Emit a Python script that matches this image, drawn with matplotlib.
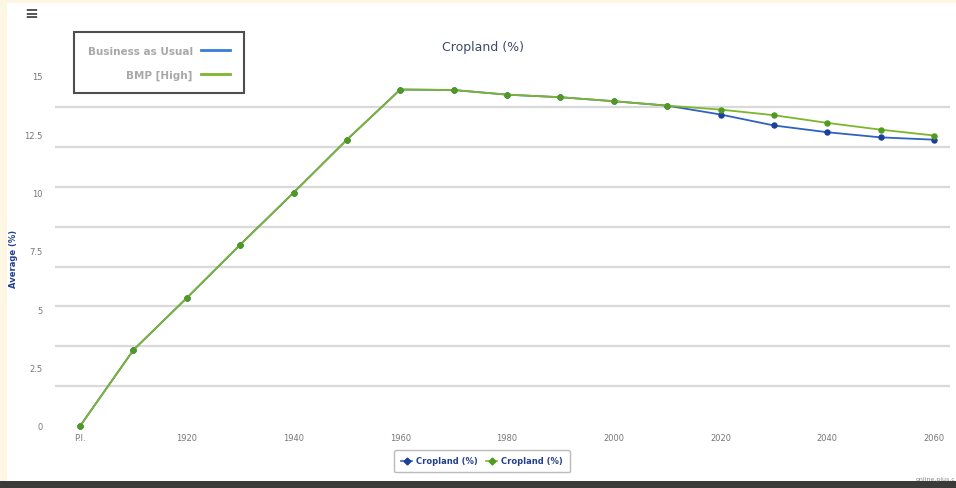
import numpy as np
import matplotlib.pyplot as plt
from matplotlib.lines import Line2D
from matplotlib.patches import Rectangle
from matplotlib.ticker import MultipleLocator, FixedLocator

years = [1900, 1910, 1920, 1930, 1940, 1950, 1960, 1970, 1980, 1990,
         2000, 2010, 2020, 2030, 2040, 2050, 2060]
bau = [0, 3.26, 5.49, 7.77, 10.0, 12.27, 14.42, 14.4, 14.2, 14.09,
       13.92, 13.73, 13.35, 12.88, 12.59, 12.37, 12.27]
bmp_high = [0, 3.26, 5.49, 7.77, 10.0, 12.27, 14.42, 14.4, 14.2, 14.09,
            13.92, 13.73, 13.56, 13.32, 12.99, 12.70, 12.45]
xtick_pos = [1900, 1920, 1940, 1960, 1980, 2000, 2020, 2040, 2060]
xtick_labels = ["P.I.", "1920", "1940", "1960", "1980", "2000", "2020", "2040", "2060"]
ytick_pos = [0, 2.5, 5, 7.5, 10, 12.5, 15]
ytick_labels = ["0", "2.5", "5", "7.5", "10", "12.5", "15"]

blue = "#2f62c0"
blue_dark = "#1c3f9c"
green = "#7db62c"
green_dark = "#4f9a1f"

fig = plt.figure(figsize=(9.56, 4.89), dpi=100)
fig.patch.set_facecolor("#fcf6e2")
# white chart panel and dark strip at the bottom
fig.add_artist(Rectangle((7 / 956, 7 / 489), 1, 478 / 489, transform=fig.transFigure,
                         facecolor="white", edgecolor="none", zorder=0))
fig.add_artist(Rectangle((0, 0), 1, 7 / 489, transform=fig.transFigure,
                         facecolor="#3b3b39", edgecolor="none", zorder=0))

ax = fig.add_axes([55 / 956, 62 / 489, 895 / 956, 357 / 489])
ax.set_facecolor("none")
for s in ax.spines.values():
    s.set_visible(False)

ax.plot(years, bau, color=blue, lw=1.3, marker="o", ms=3.6,
        mfc=blue_dark, mec=blue_dark, clip_on=False, zorder=3)
ax.plot(years, bmp_high, color=green, lw=1.3, marker="o", ms=3.6,
        mfc=green_dark, mec=green_dark, clip_on=False, zorder=4)

ax.set_xlim(1895.3, 2063)
ax.set_ylim(0, 15.3)
ax.xaxis.set_major_locator(FixedLocator(xtick_pos))
ax.set_xticklabels(xtick_labels)
ax.yaxis.set_major_locator(FixedLocator(ytick_pos))
ax.set_yticklabels(ytick_labels)
ax.yaxis.set_minor_locator(MultipleLocator(39.8 / 23.3))
ax.grid(which="minor", axis="y", color="#d9d9d9", lw=1.6)
ax.tick_params(which="both", length=0)
ax.tick_params(axis="x", labelsize=6, colors="#777777", pad=5)
ax.tick_params(axis="y", labelsize=6, colors="#777777", pad=9)
ax.set_ylabel("Average (%)", fontsize=6, color="#23408e", fontweight="bold")
ax.yaxis.set_label_coords(-37 / 895, 0.47)

fig.text(483 / 956, 1 - 47 / 489, "Cropland (%)", ha="center", va="center",
         fontsize=9, color="#3d4a6a")
fig.text(31 / 956, 1 - 14 / 489, "\u2261", ha="center", va="center",
         fontsize=12, color="#555555", fontweight="bold")
fig.text(955 / 956, 1 - 480 / 489, "online.plus.c", ha="right", va="center",
         fontsize=4.5, color="#888888")

top_handles = [Line2D([], [], color="#3a7bd5", lw=2),
               Line2D([], [], color=green, lw=2)]
leg1 = fig.legend(top_handles, ["Business as Usual", "BMP [High]"],
                  loc="upper left", bbox_to_anchor=(69 / 956, 1 - 28 / 489),
                  markerfirst=False, fancybox=False, frameon=True,
                  fontsize=7.5, handlelength=2.8, borderpad=1.3, labelspacing=1.3)
leg1.get_frame().set_edgecolor("#222222")
leg1.get_frame().set_linewidth(1.5)
for t in leg1.get_texts():
    t.set_color("#a8a8a8")
    t.set_fontweight("bold")

bottom_handles = [Line2D([], [], color=blue, lw=1.2, marker="D", ms=3.5, mfc=blue_dark, mec=blue_dark),
                  Line2D([], [], color=green, lw=1.2, marker="D", ms=3.5, mfc=green_dark, mec=green_dark)]
leg2 = fig.legend(bottom_handles, ["Cropland (%)", "Cropland (%)"],
                  loc="center", bbox_to_anchor=(482 / 956, 1 - 462 / 489), ncol=2,
                  fontsize=6, handlelength=1.3, columnspacing=1.0, handletextpad=0.5,
                  borderpad=0.8, fancybox=True)
leg2.get_frame().set_edgecolor("#aaaaaa")
for t in leg2.get_texts():
    t.set_color("#23408e")
    t.set_fontweight("bold")

fig.savefig("out.png", dpi=100, facecolor=fig.get_facecolor())
